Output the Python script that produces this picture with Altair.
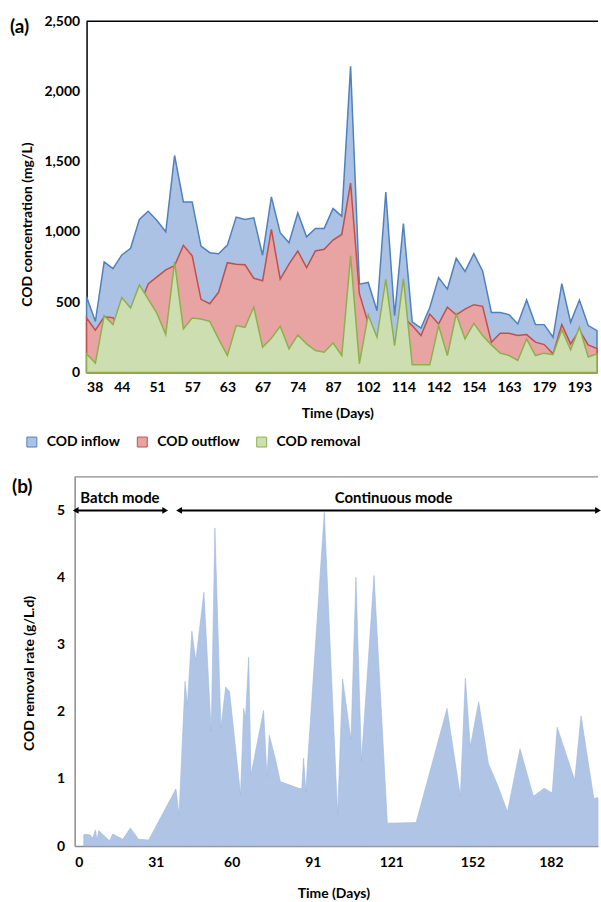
import altair as alt
import pandas as pd

# ---- Panel (a): COD concentrations at each sampling event (mg/L) ----
day_labels = [38, 44, 51, 57, 63, 67, 74, 87, 102, 114, 142, 154, 163, 179, 193]

cod_inflow = [538, 363, 786, 739, 836, 883, 1089, 1147, 1081, 1001,
              1544, 1213, 1213, 899, 852, 845, 906, 1105, 1089, 1100,
              834, 1249, 994, 923, 1135, 965, 1025, 1025, 1166, 1112,
              2179, 628, 640, 439, 1284, 404, 1060, 360, 315, 462,
              675, 593, 812, 718, 845, 722, 427, 427, 411, 345,
              515, 340, 340, 250, 632, 356, 515, 333, 297]

cod_outflow = [387, 300, 395, 390, 300, 420, 470, 630, 680, 730,
               760, 904, 830, 520, 489, 570, 781, 770, 766, 670,
               652, 1018, 663, 770, 864, 746, 864, 876, 942, 982,
               1348, 560, 350, 200, 230, 220, 390, 333, 262, 415,
               345, 465, 410, 451, 482, 470, 215, 279, 279, 262,
               269, 215, 198, 132, 340, 203, 300, 195, 170]

cod_removal = [132, 66, 404, 340, 533, 458, 623, 522, 420, 269,
               786, 309, 387, 380, 363, 239, 120, 333, 321, 465,
               179, 243, 328, 168, 267, 203, 156, 144, 210, 120,
               829, 62, 409, 250, 663, 191, 668, 54, 54, 54,
               333, 120, 415, 238, 349, 262, 196, 137, 120, 85,
               238, 120, 137, 127, 303, 161, 321, 110, 132]

# ---- Panel (b): COD removal rate (g/L.d) by day ----
rate_days = [3.5, 5.7, 7.0, 7.9, 8.6, 9.2, 13.3, 14.6, 18.4, 21.3,
             24.4, 28.3, 38.7, 39.9, 42.2, 43.1, 44.8, 46.3, 49.4, 52.2,
             53.6, 55.9, 57.7, 59.2, 63.4, 64.6, 65.3, 66.5, 67.4, 72.2,
             73.5, 74.4, 76.7, 78.6, 85.6, 86.8, 87.5, 88.3, 95.4, 100.5,
             102.4, 105.6, 107.5, 109.6, 114.4, 119.5, 130.5, 142.3, 147.4, 149.3,
             151.2, 154.4, 158.1, 161.6, 165.4, 170.2, 175.3, 179.4, 182.5, 184.4,
             191.1, 193.5, 198.4, 200.0]
rate_values = [0.17, 0.17, 0.12, 0.24, 0.09, 0.23, 0.08, 0.18, 0.10, 0.27,
               0.10, 0.09, 0.85, 0.46, 2.45, 2.10, 3.20, 2.76, 3.78, 1.70,
               4.74, 1.75, 2.37, 2.30, 0.76, 2.05, 1.90, 2.81, 1.06, 2.02,
               1.03, 1.65, 1.30, 0.96, 0.86, 0.85, 1.31, 0.81, 4.97, 0.46,
               2.49, 1.58, 4.00, 1.26, 4.03, 0.34, 0.35, 2.05, 0.74, 2.50,
               1.48, 2.15, 1.23, 0.91, 0.51, 1.45, 0.74, 0.86, 0.79, 1.77,
               0.98, 1.94, 0.71, 0.72]
rate_ticks = [0, 31, 60, 91, 121, 152, 182]

# Operating-mode annotations (arrow spans in days, drawn at rate level 5)
mode_names = ["Batch mode", "Continuous mode"]
mode_start = [0.4, 39.9]
mode_end = [34.6, 200.0]
mode_label_day = [17.3, 121.9]

FONT = "Lato"
series = ["COD inflow", "COD outflow", "COD removal"]
fill_colors = ["#abc2e4", "#e7a4a3", "#cddfb0"]
stroke_colors = ["#4f81bd", "#c0504d", "#8db04c"]

W = 526
HA = 353
HB = 371
A_RANGE = (12, 525)
A_MAX = 2500
B_MAX = 5.5
B_DAYS = 200

# ---------------- Panel (a) ----------------
n = len(cod_inflow)
df_a = pd.DataFrame({
    "sample": list(range(n)),
    "inflow": cod_inflow,
    "outflow": cod_outflow,
    "removal": cod_removal,
})

label_js = "[" + ",".join("'%d'" % d for d in day_labels) + "]"
x_a = alt.X(
    "sample:Q",
    scale=alt.Scale(domain=[0, n - 1], range=list(A_RANGE), nice=False, zero=False),
    axis=alt.Axis(
        values=list(range(0, 4 * len(day_labels), 4)),
        labelExpr=label_js + "[round(datum.value / 4)]",
        title="Time (Days)",
        titleX=264,
        labelPadding=8,
        titlePadding=12,
        domainColor="#8c8c8c",
        domainWidth=1.5,
    ),
)

y_axis_a = alt.Axis(
    values=[0, 500, 1000, 1500, 2000, 2500],
    labelExpr="format(datum.value, ',')",
    offset=-12,
    title="COD concentration (mg/L)",
    titleY=204,
    labelPadding=7,
    titlePadding=10,
    domainColor="black",
    domainWidth=1.5,
)

fill_scale = alt.Scale(domain=series, range=fill_colors)
stroke_scale = alt.Scale(domain=series, range=stroke_colors)
legend_a = alt.Legend(
    title=None,
    orient="none",
    direction="horizontal",
    legendX=-50,
    legendY=416,
    symbolType="square",
    symbolSize=100,
    symbolStrokeWidth=1,
    labelOffset=8,
    columnPadding=15,
    padding=0,
)


def cod_layer(field, name):
    return alt.Chart(df_a).transform_calculate(
        series="'" + name + "'"
    ).mark_area(strokeWidth=1.5).encode(
        x=x_a,
        y=alt.Y(field + ":Q", scale=alt.Scale(domain=[0, A_MAX], nice=False), axis=y_axis_a),
        fill=alt.Fill("series:N", scale=fill_scale, legend=legend_a),
        stroke=alt.Stroke("series:N", scale=stroke_scale, legend=legend_a),
    )


top_border_a = alt.Chart(df_a.head(1)).mark_rule(color="black", strokeWidth=1.5).encode(
    x=alt.value(A_RANGE[0]), x2=alt.value(W), y=alt.value(0)
)
tag_a = alt.Chart(df_a.head(1)).mark_text(
    text="(a)", font=FONT, fontSize=19, fontWeight="bold", align="left", baseline="middle", color="black"
).encode(x=alt.value(-65), y=alt.value(6))
# keeps the page's top-left corner fixed relative to the plot
anchor = alt.Chart(df_a.head(1)).mark_rect(fill="white", opacity=0).encode(
    x=alt.value(-75), x2=alt.value(-74), y=alt.value(-19), y2=alt.value(-18)
)

panel_a = alt.layer(
    anchor,
    cod_layer("inflow", "COD inflow"),
    cod_layer("outflow", "COD outflow"),
    cod_layer("removal", "COD removal"),
    top_border_a,
    tag_a,
).properties(width=W, height=HA)

# ---------------- Panel (b) ----------------
df_b = pd.DataFrame({"day": rate_days, "rate": rate_values})

x_b = alt.X(
    "day:Q",
    scale=alt.Scale(domain=[0, B_DAYS], nice=False, zero=False),
    axis=alt.Axis(
        values=rate_ticks,
        title="Time (Days)",
        titleX=260,
        labelPadding=10,
        titlePadding=17,
        domainColor="#8c8c8c",
        domainWidth=1.5,
    ),
)
y_b = alt.Y(
    "rate:Q",
    scale=alt.Scale(domain=[0, B_MAX], nice=False),
    axis=alt.Axis(
        values=[0, 1, 2, 3, 4, 5],
        labelExpr="format(datum.value, 'd')",
        title="COD removal rate (g/L.d)",
        titleY=197,
        labelPadding=10,
        titlePadding=20,
        domainColor="#8c8c8c",
        domainWidth=1.5,
    ),
)

area_b = alt.Chart(df_b).mark_area(
    fill="#b0c5e6", stroke="#9db7de", strokeWidth=0.6
).encode(x=x_b, y=y_b)

df_modes = pd.DataFrame({
    "mode": mode_names,
    "start": mode_start,
    "end": mode_end,
    "label_day": mode_label_day,
    "level": [5, 5],
})
df_heads = pd.DataFrame({
    "day": mode_start + mode_end,
    "level": [5] * 4,
    "dir": ["left", "left", "right", "right"],
})

arrow_lines = alt.Chart(df_modes).mark_rule(color="black", strokeWidth=2).encode(
    x="start:Q", x2="end:Q", y="level:Q"
)
arrow_heads = alt.Chart(df_heads).mark_point(filled=True, color="black", size=45, opacity=1).encode(
    x="day:Q",
    y="level:Q",
    shape=alt.Shape("dir:N", scale=alt.Scale(domain=["left", "right"], range=["triangle-left", "triangle-right"]), legend=None),
)
mode_text = alt.Chart(df_modes).mark_text(
    font=FONT, fontSize=15, fontWeight="bold", baseline="middle", dy=-12, color="black"
).encode(x="label_day:Q", y="level:Q", text="mode:N")

top_border_b = alt.Chart(df_b.head(1)).mark_rule(color="#8c8c8c", strokeWidth=1.5).encode(
    x=alt.value(0), x2=alt.value(W), y=alt.value(0)
)
tag_b = alt.Chart(df_b.head(1)).mark_text(
    text="(b)", font=FONT, fontSize=19, fontWeight="bold", align="left", baseline="middle", color="black"
).encode(x=alt.value(-63), y=alt.value(10))

panel_b = alt.layer(
    area_b, top_border_b, arrow_lines, arrow_heads, mode_text, tag_b
).properties(width=W, height=HB)

chart = alt.vconcat(panel_a, panel_b, spacing=105, bounds="flush").properties(
    padding=0
).configure_view(stroke=None).configure_axis(
    labelFont=FONT,
    titleFont=FONT,
    labelFontSize=14,
    titleFontSize=14,
    labelFontWeight="bold",
    titleFontWeight="bold",
    labelColor="black",
    titleColor="black",
    grid=False,
    ticks=False,
).configure_legend(
    labelFont=FONT,
    labelFontSize=14,
    labelFontWeight="bold",
    labelColor="black",
)

chart.save("out.html", embed_options={"renderer": "svg", "actions": False})
